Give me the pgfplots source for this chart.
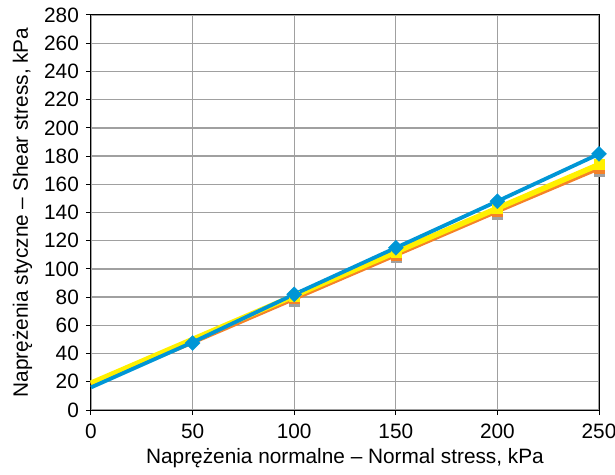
\documentclass[border=0pt]{standalone}
\usepackage{pgfplots}
\pgfplotsset{compat=1.18}
\usepackage{fontspec}
\setmainfont{Liberation Sans}
\definecolor{cblue}{RGB}{0,150,214}
\definecolor{cyellow}{RGB}{255,240,0}
\definecolor{corange}{RGB}{245,130,40}
\definecolor{cgray}{RGB}{160,160,160}
\definecolor{cgrid}{RGB}{160,160,160}
\begin{document}
\fontsize{20.8}{25}\selectfont
\begin{tikzpicture}[x=1pt,y=1pt]
\path[use as bounding box] (-91,-64) rectangle (524,410);
\begin{axis}[
  at={(0,0)}, anchor=south west,
  scale only axis, width=508pt, height=395pt,
  xmin=0, xmax=250, ymin=0, ymax=280,
  xtick={0,50,...,250}, ytick={0,20,...,280},
  grid=major,
  major grid style={cgrid, line width=1.3pt},
  axis line style={black, line width=1pt},
  tick style={black, line width=1pt},
  tick align=outside, major tick length=5pt,
  xtick pos=bottom, ytick pos=left,
  /pgf/number format/assume math mode=true,
  tick label style={font=\fontsize{20.8}{25}\selectfont},
  label style={font=\fontsize{20.8}{25}\selectfont},
  xlabel={Naprężenia normalne – Normal stress, kPa},
  ylabel={Naprężenia styczne – Shear stress, kPa},
  xticklabel style={yshift=-2pt},
  xlabel style={yshift=5pt},
  ylabel style={yshift=-2pt},
  clip=false,
]
% gray data squares
\addplot[only marks, mark=square*, mark size=5pt, mark options={fill=cgray, draw=cgray}]
  coordinates {(100,77) (150,108) (200,139) (250,169)};
% orange line with squares
\addplot[corange, line width=4.5pt, mark=none]
  coordinates {(0,18) (50,48) (100,79) (150,110) (200,141) (250,171.5)};
\addplot[only marks, mark=square*, mark size=5pt, mark options={fill=corange, draw=corange}]
  coordinates {(100,79) (150,110) (200,141) (250,171.5)};
% yellow line with squares
\addplot[cyellow, line width=5.5pt, mark=none]
  coordinates {(0,19) (50,50) (100,81) (150,112) (200,143) (250,174)};
\addplot[only marks, mark=square*, mark size=5pt, mark options={fill=cyellow, draw=cyellow}]
  coordinates {(100,81) (150,112) (200,143) (250,174)};
% blue line with diamonds
\addplot[cblue, line width=3.8pt, mark=none]
  coordinates {(0,16) (50,48) (100,82) (150,115) (200,148) (250,181.5)};
\addplot[only marks, mark=square*, mark size=5.3pt, mark options={fill=cblue, draw=cblue, rotate=45}]
  coordinates {(50,47.5) (100,82) (150,115) (200,148) (250,181.5)};
\end{axis}
\end{tikzpicture}
\end{document}
